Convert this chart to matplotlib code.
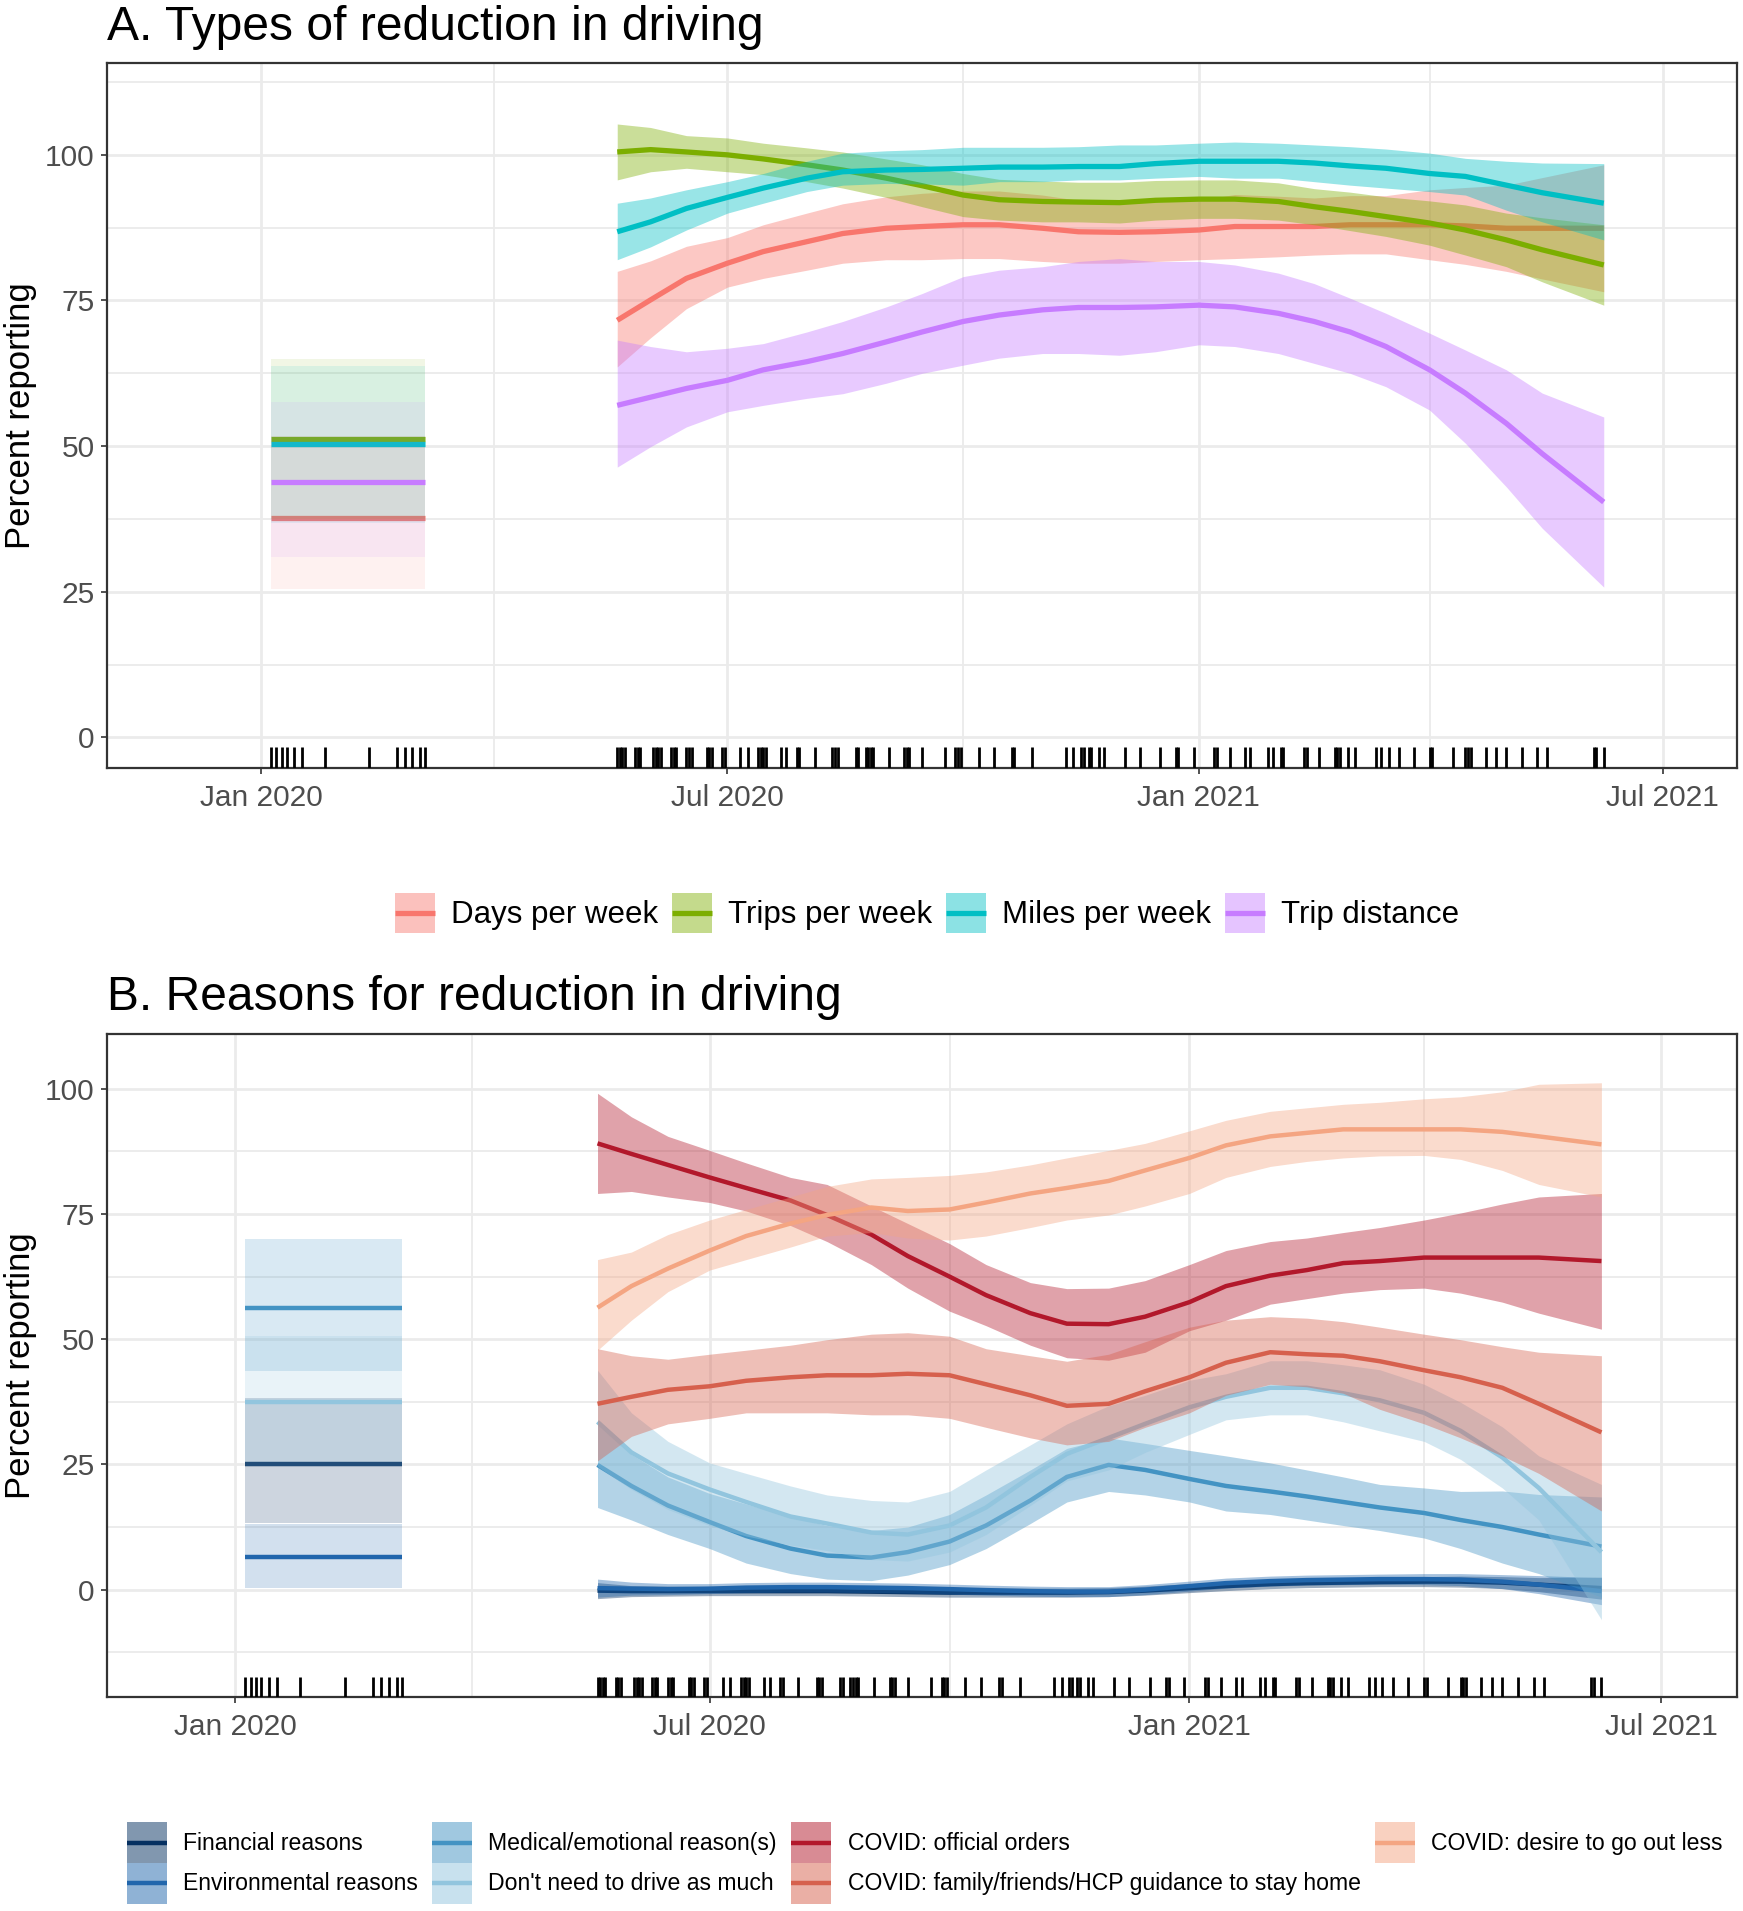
import numpy as np
import matplotlib
matplotlib.use('Agg')
import matplotlib.pyplot as plt
import matplotlib.dates as mdates
from matplotlib.patches import Rectangle
from matplotlib.lines import Line2D
from matplotlib.legend_handler import HandlerBase
from matplotlib.ticker import FixedLocator

plt.rcParams['font.family'] = ['Liberation Sans', 'DejaVu Sans']

curve_dates = ['2020-05-19', '2020-06-01', '2020-06-15', '2020-07-01', '2020-07-15',
               '2020-08-01', '2020-08-15', '2020-09-01', '2020-09-15', '2020-10-01',
               '2020-10-15', '2020-11-01', '2020-11-15', '2020-12-01', '2020-12-15',
               '2021-01-01', '2021-01-15', '2021-02-01', '2021-02-15', '2021-03-01',
               '2021-03-15', '2021-04-01', '2021-04-15', '2021-05-01', '2021-05-15',
               '2021-06-08']

# survey dates (rug)
pre_rug = ['2020-01-05', '2020-01-07', '2020-01-09', '2020-01-11', '2020-01-14',
           '2020-01-17', '2020-01-26', '2020-02-12', '2020-02-23', '2020-02-26',
           '2020-02-29', '2020-03-03', '2020-03-05']
post_rug = ['2020-05-19', '2020-05-20', '2020-05-21', '2020-05-22', '2020-05-26',
            '2020-05-27', '2020-05-28', '2020-06-02', '2020-06-03', '2020-06-04',
            '2020-06-05', '2020-06-09', '2020-06-10', '2020-06-11', '2020-06-15',
            '2020-06-16', '2020-06-17', '2020-06-23', '2020-06-24', '2020-06-25',
            '2020-06-29', '2020-06-30', '2020-07-06', '2020-07-09', '2020-07-13',
            '2020-07-14', '2020-07-15', '2020-07-16', '2020-07-22', '2020-07-24',
            '2020-07-28', '2020-07-29', '2020-08-04', '2020-08-11', '2020-08-12',
            '2020-08-13', '2020-08-20', '2020-08-21', '2020-08-24', '2020-08-25',
            '2020-08-26', '2020-08-27', '2020-09-02', '2020-09-08', '2020-09-09',
            '2020-09-10', '2020-09-15', '2020-09-24', '2020-09-28', '2020-09-29',
            '2020-09-30', '2020-10-07', '2020-10-13', '2020-10-20', '2020-10-21',
            '2020-10-28', '2020-11-10', '2020-11-13', '2020-11-16', '2020-11-17',
            '2020-11-19', '2020-11-20', '2020-11-23', '2020-11-25', '2020-12-03',
            '2020-12-09', '2020-12-17', '2020-12-23', '2020-12-24', '2020-12-30',
            '2021-01-07', '2021-01-08', '2021-01-13', '2021-01-19', '2021-01-21',
            '2021-01-28', '2021-01-30', '2021-02-02', '2021-02-03', '2021-02-11',
            '2021-02-12', '2021-02-17', '2021-02-23', '2021-02-24', '2021-02-25',
            '2021-02-28', '2021-03-03', '2021-03-11', '2021-03-13', '2021-03-16',
            '2021-03-20', '2021-03-26', '2021-04-01', '2021-04-02', '2021-04-10',
            '2021-04-15', '2021-04-16', '2021-04-17', '2021-04-23', '2021-04-27',
            '2021-05-01', '2021-05-07', '2021-05-13', '2021-05-17', '2021-06-04',
            '2021-06-05', '2021-06-08']

# ---- Panel A: types of reduction ----
labels_a = ['Days per week', 'Trips per week', 'Miles per week', 'Trip distance']
colors_a = ['#F8766D', '#7CAE00', '#00BFC4', '#C77CFF']

days_fit = [71.6, 75.1, 78.8, 81.4, 83.4, 85.1, 86.5, 87.4, 87.7, 88.0, 88.0, 87.4, 86.8,
            86.7, 86.8, 87.1, 87.7, 87.7, 87.7, 88.0, 88.0, 88.0, 87.8, 87.4, 87.4, 87.4]
days_lo = [63.6, 68.6, 73.6, 77.3, 78.8, 80.2, 81.4, 82.0, 82.0, 82.2, 82.2, 81.7, 81.4,
           81.4, 81.7, 82.0, 82.2, 82.5, 82.8, 83.0, 83.0, 82.0, 81.2, 80.0, 78.7, 76.5]
days_hi = [80.0, 81.8, 84.3, 85.8, 88.0, 90.0, 91.6, 92.8, 93.4, 93.8, 93.8, 93.1, 92.2,
           92.0, 91.9, 92.2, 93.2, 92.9, 92.6, 93.0, 93.0, 94.0, 94.4, 94.8, 96.1, 98.3]

trips_fit = [100.5, 100.9, 100.5, 100.0, 99.3, 98.3, 97.4, 96.0, 94.7, 93.1, 92.3, 92.0, 91.9,
             91.8, 92.2, 92.4, 92.4, 92.0, 91.1, 90.3, 89.4, 88.3, 87.1, 85.4, 83.7, 81.1]
trips_lo = [95.7, 97.1, 97.7, 97.1, 96.6, 95.4, 94.3, 92.7, 91.1, 89.4, 88.8, 88.5, 88.5,
            88.3, 88.8, 89.1, 89.1, 88.8, 88.0, 87.0, 86.0, 84.5, 82.8, 80.8, 78.2, 74.2]
trips_hi = [105.3, 104.7, 103.3, 102.9, 102.0, 101.2, 100.5, 99.3, 98.3, 96.8, 95.8, 95.5, 95.3,
            95.3, 95.6, 95.7, 95.7, 95.2, 94.2, 93.6, 92.8, 92.1, 91.4, 90.0, 89.2, 88.0]

miles_fit = [86.8, 88.5, 90.8, 92.7, 94.3, 96.0, 97.1, 97.4, 97.5, 97.7, 97.9, 97.9, 98.0,
             98.0, 98.5, 98.9, 98.9, 98.9, 98.6, 98.1, 97.7, 96.8, 96.3, 94.8, 93.5, 91.7]
miles_lo = [82.0, 84.2, 87.1, 90.0, 91.7, 93.7, 94.8, 95.1, 95.0, 94.8, 95.4, 95.4, 95.7,
            95.7, 96.0, 96.3, 96.0, 96.0, 95.4, 94.8, 94.3, 93.7, 93.1, 90.5, 88.5, 85.4]
miles_hi = [91.7, 92.6, 94.0, 95.4, 96.8, 98.9, 100.3, 100.7, 100.9, 101.3, 101.3, 101.3, 101.4,
            101.7, 101.7, 102.0, 102.2, 102.0, 101.7, 101.4, 101.0, 100.3, 99.4, 98.9, 98.6, 98.5]

dist_fit = [57.0, 58.4, 59.9, 61.3, 63.1, 64.5, 65.9, 67.9, 69.6, 71.4, 72.5, 73.4, 73.8,
            73.8, 73.9, 74.2, 73.9, 72.8, 71.4, 69.6, 67.1, 63.1, 59.1, 53.9, 48.7, 40.4]
dist_lo = [46.4, 49.9, 53.3, 55.9, 57.0, 58.2, 59.0, 60.8, 62.5, 63.9, 65.1, 65.9, 65.9,
           65.6, 66.2, 67.4, 67.1, 65.9, 64.2, 62.5, 60.2, 56.2, 50.5, 43.0, 35.9, 25.8]
dist_hi = [68.2, 67.1, 66.2, 66.8, 67.6, 69.6, 71.4, 73.9, 76.2, 79.1, 80.2, 80.8, 81.7,
           82.2, 81.7, 81.7, 81.1, 79.7, 77.9, 75.4, 72.8, 69.4, 66.5, 63.1, 59.1, 55.0]

# pre-pandemic estimates (same order as labels_a)
pre_fit_a = [37.6, 51.2, 50.3, 43.9]
pre_lo_a = [25.5, 37.5, 36.8, 31.0]
pre_hi_a = [51.8, 65.0, 63.8, 57.6]

# ---- Panel B: reasons for reduction ----
labels_b = ['Financial reasons', 'Environmental reasons', 'Medical/emotional reason(s)',
            "Don't need to drive as much", 'COVID: official orders',
            'COVID: family/friends/HCP guidance to stay home', 'COVID: desire to go out less']
colors_b = ['#053061', '#2166AC', '#4393C3', '#92C5DE', '#B2182B', '#D6604D', '#F4A582']

fin_fit = [-0.2, -0.3, -0.3, -0.3, -0.3, -0.3, -0.3, -0.4, -0.5, -0.6, -0.6, -0.6, -0.6,
           -0.5, -0.2, 0.3, 0.7, 1.1, 1.3, 1.4, 1.5, 1.6, 1.6, 1.4, 1.0, 0.3]
fin_lo = [-1.8, -1.4, -1.3, -1.2, -1.2, -1.2, -1.2, -1.3, -1.4, -1.5, -1.5, -1.5, -1.5,
          -1.4, -1.1, -0.6, -0.2, 0.2, 0.4, 0.5, 0.6, 0.6, 0.5, 0.2, -0.4, -1.9]
fin_hi = [1.4, 0.8, 0.7, 0.6, 0.6, 0.6, 0.6, 0.5, 0.4, 0.3, 0.3, 0.3, 0.3,
          0.4, 0.7, 1.2, 1.6, 2.0, 2.2, 2.3, 2.4, 2.6, 2.7, 2.6, 2.4, 2.5]

env_fit = [0.3, 0.2, 0.1, 0.2, 0.4, 0.5, 0.5, 0.4, 0.3, 0.1, -0.1, -0.3, -0.4,
           -0.4, 0.0, 0.7, 1.3, 1.7, 1.9, 2.0, 2.1, 2.1, 2.0, 1.6, 1.0, -0.3]
env_lo = [-1.5, -1.1, -1.0, -0.8, -0.6, -0.5, -0.5, -0.6, -0.7, -0.9, -1.1, -1.3, -1.4,
          -1.4, -1.0, -0.3, 0.3, 0.7, 0.9, 1.0, 1.1, 1.0, 0.8, 0.2, -0.8, -3.0]
env_hi = [2.1, 1.5, 1.2, 1.2, 1.4, 1.5, 1.5, 1.4, 1.3, 1.1, 0.9, 0.7, 0.6,
          0.6, 1.0, 1.7, 2.3, 2.7, 2.9, 3.0, 3.1, 3.2, 3.2, 3.0, 2.8, 2.4]

med_fit = [24.9, 20.7, 16.8, 13.5, 10.7, 8.2, 6.8, 6.4, 7.5, 9.6, 12.8, 17.8, 22.5,
           24.9, 23.9, 22.1, 20.7, 19.6, 18.6, 17.5, 16.4, 15.3, 13.9, 12.5, 11.0, 8.6]
med_lo = [16.4, 13.9, 11.0, 8.2, 5.3, 3.2, 2.1, 1.8, 2.9, 5.0, 8.2, 13.2, 17.5,
          19.6, 18.9, 17.5, 15.7, 15.0, 13.9, 12.8, 11.8, 10.3, 8.2, 5.3, 3.2, -1.5]
med_hi = [33.9, 27.0, 22.5, 19.2, 17.1, 14.6, 12.8, 11.8, 12.5, 15.0, 18.9, 23.9, 28.2,
          30.3, 29.2, 27.8, 26.7, 25.3, 23.9, 22.5, 21.0, 20.3, 19.6, 19.7, 19.0, 18.5]

need_fit = [33.5, 27.4, 23.2, 20.0, 17.5, 14.6, 13.2, 11.4, 11.0, 12.8, 16.4, 22.5, 27.1,
            30.3, 33.1, 36.4, 38.5, 40.3, 40.3, 39.2, 37.8, 35.3, 31.7, 26.4, 20.3, 7.5]
need_lo = [24.6, 20.0, 16.0, 12.8, 10.7, 8.9, 7.8, 6.0, 5.7, 7.5, 11.0, 16.8, 21.7,
           23.9, 27.4, 31.0, 33.9, 34.9, 34.9, 33.5, 31.7, 29.6, 26.0, 20.3, 13.9, -6.0]
need_hi = [43.8, 35.3, 29.6, 25.3, 23.2, 20.7, 18.9, 17.8, 17.5, 19.6, 23.9, 28.9, 33.1,
           36.7, 38.8, 41.8, 43.1, 45.7, 45.7, 44.9, 43.9, 41.0, 37.4, 32.5, 26.7, 21.0]

official_fit = [89.1, 87.0, 84.8, 82.3, 80.2, 77.7, 74.8, 70.9, 66.6, 62.5, 58.8, 55.2, 53.1,
                53.0, 54.5, 57.4, 60.6, 62.7, 63.8, 65.2, 65.6, 66.3, 66.3, 66.3, 66.3, 65.6]
official_lo = [79.1, 79.5, 78.4, 77.3, 75.6, 72.7, 69.5, 64.9, 60.2, 55.6, 52.7, 48.8, 46.3,
               45.8, 47.4, 51.7, 53.8, 57.0, 58.1, 59.2, 59.9, 60.2, 59.2, 57.4, 55.2, 52.0]
official_hi = [99.1, 94.4, 90.5, 87.7, 85.2, 82.3, 80.9, 76.6, 73.1, 69.1, 64.9, 61.3, 60.1,
               60.2, 61.7, 64.9, 67.7, 69.5, 70.2, 71.3, 72.3, 73.8, 75.2, 77.0, 78.4, 79.1]

family_fit = [37.1, 38.5, 39.9, 40.6, 41.7, 42.4, 42.8, 42.8, 43.1, 42.8, 41.0, 38.8, 36.7,
              37.1, 39.6, 42.4, 45.3, 47.4, 47.0, 46.7, 45.6, 43.8, 42.4, 40.3, 37.1, 31.4]
family_lo = [25.7, 30.6, 33.1, 34.2, 35.3, 35.3, 35.3, 34.9, 34.9, 34.2, 32.4, 30.3, 28.9,
             29.6, 32.4, 35.3, 38.8, 41.0, 40.5, 39.2, 36.0, 33.1, 30.3, 26.7, 23.2, 15.7]
family_hi = [48.1, 46.7, 46.0, 47.0, 47.8, 48.8, 49.9, 51.0, 51.3, 50.6, 48.1, 46.7, 45.6,
             47.0, 49.5, 52.4, 53.8, 54.5, 54.2, 53.5, 52.4, 51.0, 49.9, 48.5, 47.4, 46.7]

desire_fit = [56.3, 60.6, 64.1, 67.7, 70.6, 73.1, 74.8, 76.3, 75.6, 75.9, 77.3, 79.1, 80.2,
              81.6, 83.7, 86.2, 88.7, 90.5, 91.2, 91.9, 91.9, 91.9, 91.9, 91.4, 90.5, 88.9]
desire_lo = [47.8, 53.8, 59.5, 63.8, 65.9, 68.4, 70.6, 71.3, 70.2, 69.8, 70.6, 72.3, 73.8,
             74.8, 76.6, 79.1, 82.3, 84.5, 85.5, 86.2, 86.6, 86.7, 85.9, 83.7, 80.9, 78.4]
desire_hi = [65.9, 67.4, 70.9, 73.8, 75.9, 78.4, 80.5, 82.0, 82.3, 82.7, 83.4, 84.8, 86.2,
             87.7, 89.1, 91.6, 93.7, 95.5, 96.2, 96.9, 97.3, 98.0, 98.4, 99.4, 100.9, 101.2]

# pre-pandemic estimates (financial, environmental, medical, don't need)
pre_fit_b = [25.0, 6.6, 56.3, 37.5]
pre_lo_b = [13.3, 0.4, 43.6, 24.6]
pre_hi_b = [38.2, 13.1, 70.1, 50.6]


# legend key: shaded square with the line through its middle
class Key:
    def __init__(self, color, alpha, lw):
        self.color, self.alpha, self.lw = color, alpha, lw


class KeyHandler(HandlerBase):
    def create_artists(self, legend, key, xdescent, ydescent, width, height, fontsize, trans):
        box = Rectangle((-xdescent, -ydescent), width, height, facecolor=key.color,
                        alpha=key.alpha, edgecolor='none', transform=trans)
        yc = -ydescent + height / 2
        line = Line2D([-xdescent, -xdescent + width], [yc, yc], color=key.color,
                      lw=key.lw, transform=trans, solid_capstyle='butt')
        return [box, line]


# ---------------------------------------------------------------
W, H = 1743, 1911
fig = plt.figure(figsize=(W / 100, H / 100), dpi=100)

x = np.array(curve_dates, dtype='datetime64[D]')
pre = np.array(pre_rug, dtype='datetime64[D]')
rug = np.concatenate([pre, np.array(post_rug, dtype='datetime64[D]')])
pre_span = np.array([pre.min(), pre.max()])

major_x = np.array(['2020-01-01', '2020-07-01', '2021-01-01', '2021-07-01'], dtype='datetime64[D]')
minor_x = np.array(['2020-04-01', '2020-10-01', '2021-04-01'], dtype='datetime64[D]')


def style_axes(ax, xlim, ylim, minor_y):
    ax.set_xlim(mdates.date2num(np.datetime64(xlim[0])), mdates.date2num(np.datetime64(xlim[1])))
    ax.set_ylim(*ylim)
    ax.xaxis.set_major_locator(FixedLocator(mdates.date2num(major_x)))
    ax.xaxis.set_minor_locator(FixedLocator(mdates.date2num(minor_x)))
    ax.xaxis.set_major_formatter(mdates.DateFormatter('%b %Y'))
    ax.set_yticks([0, 25, 50, 75, 100])
    ax.yaxis.set_minor_locator(FixedLocator(minor_y))
    ax.grid(which='major', color='#EBEBEB', lw=2.0, zorder=0)
    ax.grid(which='minor', color='#EBEBEB', lw=1.3, zorder=0)
    ax.set_axisbelow(True)
    ax.tick_params(which='major', length=4, width=1.2, color='#333333',
                   labelsize=21.5, labelcolor='#4D4D4D', pad=5)
    ax.tick_params(axis='x', which='major', pad=7.5)
    ax.tick_params(which='minor', length=0)
    for s in ax.spines.values():
        s.set_color('#333333')
        s.set_linewidth(1.6)
    ax.set_ylabel('Percent reporting', fontsize=25, color='black')
    ax.yaxis.set_label_coords(-0.0431, 0.5)
    ax.vlines(mdates.date2num(rug), 0, 0.03, transform=ax.get_xaxis_transform(),
              color='black', lw=2.0, zorder=10)


# ---- Panel A ----
ax1 = fig.add_axes([107.3 / W, 1 - 768 / H, (1737 - 107.3) / W, (768 - 63.4) / H])
series_a = [(days_fit, days_lo, days_hi), (trips_fit, trips_lo, trips_hi),
            (miles_fit, miles_lo, miles_hi), (dist_fit, dist_lo, dist_hi)]
for i, ((f, lo, hi), c) in enumerate(zip(series_a, colors_a)):
    ax1.fill_between(x, lo, hi, color=c, alpha=0.4, lw=0, zorder=2 + 2 * i)
    ax1.plot(x, f, color=c, lw=3.8, zorder=3 + 2 * i, solid_capstyle='butt')
    ax1.fill_between(pre_span, pre_lo_a[i], pre_hi_a[i], color=c, alpha=0.1, lw=0, zorder=2 + 2 * i)
    ax1.plot(pre_span, [pre_fit_a[i]] * 2, color=c, lw=3.8, zorder=3 + 2 * i, solid_capstyle='butt')
style_axes(ax1, ('2019-11-02', '2021-07-30'), (-5.25, 115.7), [12.5, 37.5, 62.5, 87.5, 112.5])
fig.text(107 / W, 1 - 28 / H, 'A. Types of reduction in driving', fontsize=34.6, va='center', ha='left')

keys_a = [Key(c, 0.45, 3.8) for c in colors_a]
fig.legend(keys_a, labels_a, handler_map={Key: KeyHandler()}, loc='center',
           bbox_to_anchor=(927 / W, 1 - 913 / H), ncol=4,
           frameon=False, fontsize=22.5, handlelength=1.28, handleheight=1.59,
           handletextpad=0.5, columnspacing=0.46, borderpad=0)

# ---- Panel B ----
ax2 = fig.add_axes([107.3 / W, 1 - 1696.8 / H, (1737 - 107.3) / W, (1696.8 - 1033.7) / H])
series_b = [(fin_fit, fin_lo, fin_hi), (env_fit, env_lo, env_hi), (med_fit, med_lo, med_hi),
            (need_fit, need_lo, need_hi), (official_fit, official_lo, official_hi),
            (family_fit, family_lo, family_hi), (desire_fit, desire_lo, desire_hi)]
for i, ((f, lo, hi), c) in enumerate(zip(series_b, colors_b)):
    ax2.fill_between(x, lo, hi, color=c, alpha=0.4, lw=0, zorder=2 + 2 * i)
    ax2.plot(x, f, color=c, lw=3.2, zorder=3 + 2 * i, solid_capstyle='butt')
    if i < len(pre_fit_b):
        ax2.fill_between(pre_span, pre_lo_b[i], pre_hi_b[i], color=c, alpha=0.2, lw=0, zorder=2 + 2 * i)
        ax2.plot(pre_span, [pre_fit_b[i]] * 2, color=c, lw=3.2, zorder=3 + 2 * i, solid_capstyle='butt')
style_axes(ax2, ('2019-11-13', '2021-07-30'), (-21.4, 111), [-12.5, 12.5, 37.5, 62.5, 87.5])
fig.text(107 / W, 1 - 998 / H, 'B. Reasons for reduction in driving', fontsize=34.6, va='center', ha='left')

keys_b = [Key(c, 0.5, 3.2) for c in colors_b]
fig.legend(keys_b, labels_b, handler_map={Key: KeyHandler()}, loc='center left',
           bbox_to_anchor=(126.8 / W, 1 - 1863 / H), ncol=4,
           frameon=False, fontsize=16.6, handlelength=1.74, handleheight=2.34,
           handletextpad=0.7, columnspacing=0.62, labelspacing=0, borderpad=0, borderaxespad=0)

fig.savefig('out.png', dpi=100)
